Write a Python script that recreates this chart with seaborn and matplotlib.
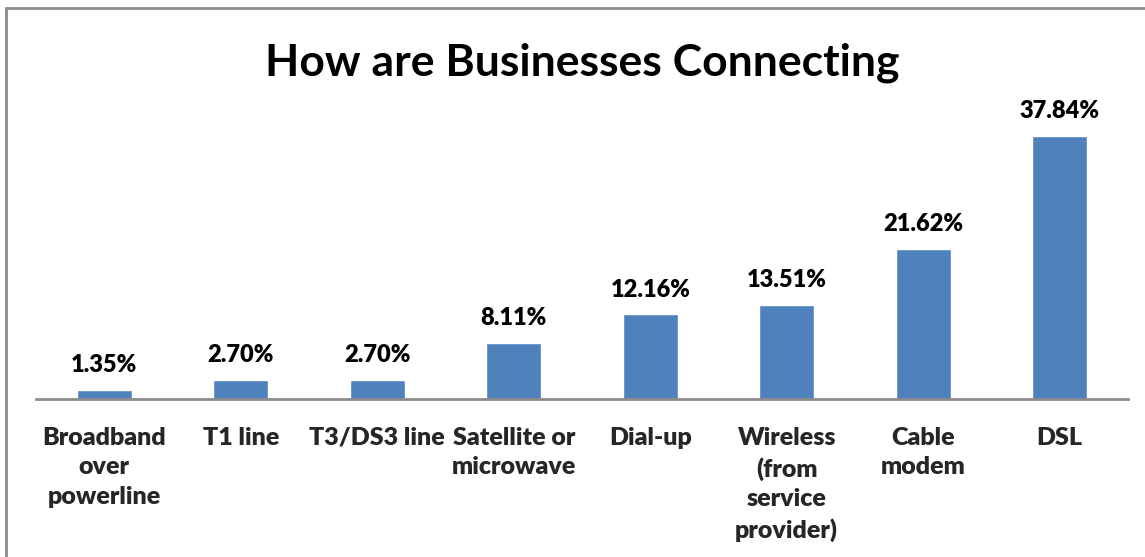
import matplotlib
matplotlib.use("Agg")
import matplotlib.pyplot as plt
from matplotlib.lines import Line2D
import seaborn as sns
import pandas as pd

categories = [
    "Broadband\nover\npowerline",
    "T1 line",
    "T3/DS3 line",
    "Satellite or\nmicrowave",
    "Dial-up",
    "Wireless\n(from\nservice\nprovider)",
    "Cable\nmodem",
    "DSL",
]
shares = [1.35, 2.70, 2.70, 8.11, 12.16, 13.51, 21.62, 37.84]
title = "How are Businesses Connecting"

sns.set_theme(style="white")
plt.rcParams["font.family"] = ["Lato", "DejaVu Sans"]

df = pd.DataFrame({"category": categories, "share": shares})

W, H = 1145, 557
fig = plt.figure(figsize=(W / 100, H / 100), dpi=100)
ax = fig.add_axes([36 / W, (H - 399) / H, (1128 - 36) / W, (399 - 121) / H])

sns.barplot(data=df, x="category", y="share", color="#4F81BD",
            saturation=1, width=0.4, ax=ax)

ax.set_ylim(0, 40)
ax.set_xlim(-0.5, len(categories) - 0.5)
ax.set_xlabel("")
ax.set_ylabel("")
ax.set_yticks([])
for side in ("top", "right", "left"):
    ax.spines[side].set_visible(False)
ax.spines["bottom"].set_color("#8c8c8c")
ax.spines["bottom"].set_linewidth(2)
ax.tick_params(axis="x", length=0, pad=20)
for lbl in ax.get_xticklabels():
    lbl.set_fontsize(18)
    lbl.set_fontweight("heavy")
    lbl.set_linespacing(1.41)
    lbl.set_verticalalignment("top")

for container in ax.containers:
    ax.bar_label(container, fmt="%.2f%%", padding=10,
                 fontsize=17, fontweight="heavy", color="black")

fig.text(582 / W, 1 - 63 / H, title, ha="center", va="center",
         fontsize=32, fontweight="bold", color="black")

# outer chart-area frame (top and left edges)
fig.add_artist(Line2D([6 / W, 1.0], [1 - 8 / H, 1 - 8 / H],
                      transform=fig.transFigure, color="#8c8c8c", lw=2))
fig.add_artist(Line2D([6 / W, 6 / W], [0.0, 1 - 8 / H],
                      transform=fig.transFigure, color="#8c8c8c", lw=2))

fig.savefig("out.png", dpi=100)
